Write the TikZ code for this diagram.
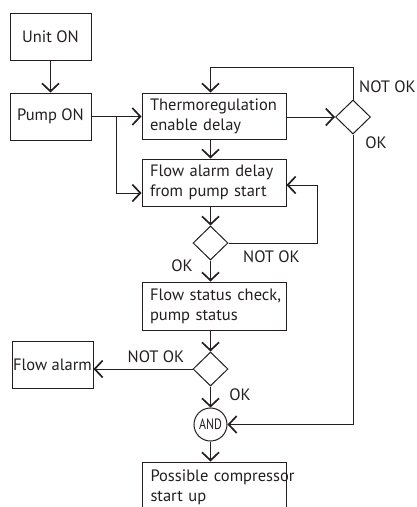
\documentclass[tikz,border=0pt]{standalone}
\usepackage{fontspec}
\setmainfont{PT Sans}
\usetikzlibrary{arrows.meta,shapes.geometric}
\definecolor{ink}{HTML}{231F20}
\hyphenpenalty=10000
\exhyphenpenalty=10000

\begin{document}
\begin{tikzpicture}[x=1pt,y=-1pt,line width=1pt,ink,
    font=\fontsize{16.5}{20}\selectfont,
    >={Straight Barb[length=8pt,width=17pt,line width=1.7pt]},
    box/.style={draw,rectangle,minimum width=144pt,minimum height=46pt,
      text width=128pt,inner xsep=8pt,align=left},
    smallbox/.style={draw,rectangle,minimum width=81pt,minimum height=47pt,inner sep=1pt},
    decision/.style={draw,diamond,minimum width=35pt,minimum height=34pt,inner sep=0pt},
    tag/.style={inner sep=0pt}]
  \useasboundingbox (0,0) rectangle (417,507);
  % boxes
  \node[smallbox] (unit) at (50.5,36.5) {Unit ON};
  \node[smallbox] (pump) at (50.5,116.5) {Pump ON};
  \node[box] (thermo) at (214,116) {Thermoregulation\\enable~delay};
  \node[box,minimum height=47pt] (flowdelay) at (214,182.5) {Flow~alarm~delay\\from~pump~start};
  \node[box,minimum height=48pt] (status) at (214,306) {Flow~status~check,\\pump~status};
  \node[box,minimum height=50pt] (start) at (214.5,487) {Possible~compressor\\start~up};
  \node[smallbox] (alarm) at (52.5,364.5) {Flow~alarm};
  % decisions
  \node[decision] (dia1) at (353,117) {};
  \node[decision] (dia2) at (210.5,243) {};
  \node[decision] (dia3) at (210.5,369) {};
  \node[draw,circle,minimum size=33pt,inner sep=0pt,font=\fontsize{15}{17}\selectfont]
    (and) at (210.5,424.5) {\scalebox{.8}[1]{AND}};
  % labels
  \node[tag] (nok1) at (387.5,87) {NOT OK};
  \node[tag] (ok1) at (376,143) {OK};
  \node[tag] (nok2) at (271.5,257) {NOT OK};
  \node[tag] (ok2) at (182,266) {OK};
  \node[tag] (nok3) at (156,357) {NOT OK};
  \node[tag] (ok3) at (240,395) {OK};
  % bends
  \coordinate (split) at (116,116.5);
  \coordinate (looptop) at (353,67);
  \coordinate (loopright) at (317,185);
  % connectors
  \draw[->] (unit) -- (pump);
  \draw (pump.east) -- (split);
  \draw[->] (split) -- (split -| thermo.west);
  \draw[->] (split) |- ([yshift=-10.5pt]flowdelay.west);
  \draw[->] (thermo.east |- dia1) -- (dia1.west);
  \draw[->] (dia1.north) |- (looptop -| dia2) -- (thermo.north -| dia2);
  \draw[->] (thermo.south -| dia2) -- (flowdelay.north -| dia2);
  \draw[->] (flowdelay.south -| dia2) -- (dia2.north);
  \draw[->] (dia2.east) -| (loopright) -- ([yshift=-2.5pt]flowdelay.east);
  \draw[->] (dia2.south) -- (status.north -| dia2);
  \draw[->] (status.south -| dia3) -- (dia3.north);
  \draw[->] (dia3.west) -- (dia3.west -| alarm.east);
  \draw[->] (dia3.south) -- (and.north);
  \draw[->] (dia1.south) |- (and.east);
  \draw[->] (and.south) -- (start.north -| and);
\end{tikzpicture}
\end{document}
